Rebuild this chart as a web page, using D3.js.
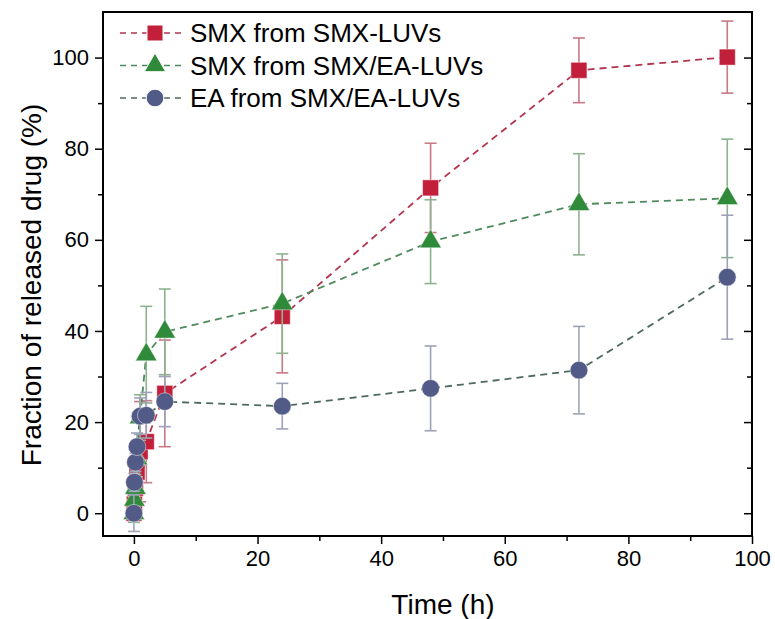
<!DOCTYPE html>
<html>
<head>
<meta charset="utf-8">
<script src="https://cdn.jsdelivr.net/npm/d3@7"></script>
<style>
  body { margin: 0; background: #fff; }
  svg text { font-family: Arial, "Liberation Sans", sans-serif; fill: #000; }
</style>
</head>
<body>
<svg id="chart" width="775" height="619"></svg>
<script>
// release time points (h)
const timeH = [0, 0.083, 0.25, 0.5, 1, 2, 5, 24, 48, 72, 96];

// SMX from SMX-LUVs
const smxLuv = [0, 2, 5.5, 9, 13.5, 15.7, 26.3, 43.2, 71.4, 97.2, 100.1];
const smxLuvErr = [1.5, 1.5, 2, 3, 11, 9, 11.7, 12.4, 9.8, 7.1, 7.9];
// SMX from SMX/EA-LUVs
const smxEa = [0, 2.9, 5.5, 12, 21, 34.8, 39.8, 46.0, 59.6, 67.8, 69.1];
const smxEaErr = [2, 2, 3, 4, 5, 10.6, 9.4, 10.9, 9.2, 11.1, 13];
// EA from SMX/EA-LUVs
const eaEa = [0, 6.8, 11.2, 14.6, 21.3, 21.5, 24.5, 23.5, 27.4, 31.4, 51.8];
const eaEaErr = [4, 2, 2, 3, 4, 5, 5.5, 5.0, 9.3, 9.6, 13.6];

const seriesNames = ["SMX from SMX-LUVs", "SMX from SMX/EA-LUVs", "EA from SMX/EA-LUVs"];
const xTicks = [0, 20, 40, 60, 80, 100];
const yTicks = [0, 20, 40, 60, 80, 100];
const minorTicks = [10, 30, 50, 70, 90];

const series = [
    { name: seriesNames[0], y: smxLuv, err: smxLuvErr, shape: d3.symbolSquare, size: 256,
      fill: "#c21f3a", line: "#b4344f", bar: "#c97886" },
    { name: seriesNames[1], y: smxEa, err: smxEaErr, shape: d3.symbolTriangle, size: 200,
      fill: "#2f8a3a", line: "#4f8a5c", bar: "#8db28f" },
    { name: seriesNames[2], y: eaEa, err: eaEaErr, shape: d3.symbolCircle, size: 245,
      fill: "#525b87", line: "#4e6a5e", bar: "#9ea2b6" }
];

const svg = d3.select("#chart");
const margin = { top: 12, right: 23, bottom: 83, left: 103 };
const width = 775 - margin.left - margin.right;
const height = 619 - margin.top - margin.bottom;

const x = d3.scaleLinear().domain([-5, 100]).range([0, width]);
const y = d3.scaleLinear().domain([-5, 110]).range([height, 0]);

const g = svg.append("g")
    .attr("transform", `translate(${margin.left},${margin.top})`);

// axes: outward ticks bottom/left, inward ticks right
const styleAxis = sel => {
    sel.select(".domain").remove();
    sel.selectAll("line").attr("stroke", "#000").attr("stroke-width", 1.5);
    sel.selectAll("text").style("font-size", "22px");
};

g.append("g")
    .attr("transform", `translate(0,${height})`)
    .call(d3.axisBottom(x).tickValues(xTicks).tickSize(8).tickPadding(6))
    .call(styleAxis);
g.append("g")
    .attr("transform", `translate(0,${height})`)
    .call(d3.axisBottom(x).tickValues(minorTicks).tickSize(5).tickFormat(""))
    .call(styleAxis);
g.append("g")
    .call(d3.axisLeft(y).tickValues(yTicks).tickSize(8).tickPadding(6))
    .call(styleAxis);
g.append("g")
    .call(d3.axisLeft(y).tickValues(minorTicks).tickSize(5).tickFormat(""))
    .call(styleAxis);
g.append("g")
    .attr("transform", `translate(${width},0)`)
    .call(d3.axisRight(y).tickValues(yTicks).tickSize(-8).tickFormat(""))
    .call(styleAxis);
g.append("g")
    .attr("transform", `translate(${width},0)`)
    .call(d3.axisRight(y).tickValues(minorTicks).tickSize(-5).tickFormat(""))
    .call(styleAxis);

g.append("rect")
    .attr("width", width).attr("height", height)
    .attr("fill", "none").attr("stroke", "#000").attr("stroke-width", 2);

// axis titles
svg.append("text")
    .attr("x", margin.left + x(50)).attr("y", 614)
    .attr("text-anchor", "middle")
    .style("font-size", "28px")
    .text("Time (h)");
svg.append("text")
    .attr("transform", `translate(41,285) rotate(-90)`)
    .attr("text-anchor", "middle")
    .style("font-size", "28px")
    .text("Fraction of released drug (%)");

const line = d3.line().x(d => x(d[0])).y(d => y(d[1]));

series.forEach(s => {
    const pts = timeH.map((t, i) => [t, s.y[i], s.err[i]]);

    g.append("path")
        .datum(pts)
        .attr("d", line)
        .attr("fill", "none")
        .attr("stroke", s.line)
        .attr("stroke-width", 1.8)
        .attr("stroke-dasharray", "7,5");

    const eb = g.append("g").attr("stroke", s.bar).attr("stroke-width", 1.6);
    pts.forEach(p => {
        const cx = x(p[0]);
        eb.append("line").attr("x1", cx).attr("x2", cx)
            .attr("y1", y(p[1] - p[2])).attr("y2", y(p[1] + p[2]));
        [p[1] - p[2], p[1] + p[2]].forEach(v => {
            eb.append("line").attr("x1", cx - 6).attr("x2", cx + 6)
                .attr("y1", y(v)).attr("y2", y(v));
        });
    });

    g.selectAll(null)
        .data(pts)
        .enter().append("path")
        .attr("d", d3.symbol().type(s.shape).size(s.size))
        .attr("transform", d => `translate(${x(d[0])},${y(d[1])})`)
        .attr("fill", s.fill)
        .attr("stroke", "#ffffff")
        .attr("stroke-opacity", 0.45)
        .attr("stroke-width", 1);
});

// legend
const legend = svg.append("g");
series.forEach((s, i) => {
    const ly = 33 + i * 32.5;
    legend.append("line")
        .attr("x1", 120).attr("x2", 182)
        .attr("y1", ly).attr("y2", ly)
        .attr("stroke", s.line).attr("stroke-width", 1.5)
        .attr("stroke-dasharray", "6,5");
    legend.append("path")
        .attr("d", d3.symbol().type(s.shape).size(s.size))
        .attr("transform", `translate(155,${ly})`)
        .attr("fill", s.fill)
        .attr("stroke", "#ffffff").attr("stroke-width", 1);
    legend.append("text")
        .attr("x", 190).attr("y", ly + 9)
        .style("font-size", "26px")
        .text(s.name);
});
</script>
</body>
</html>
